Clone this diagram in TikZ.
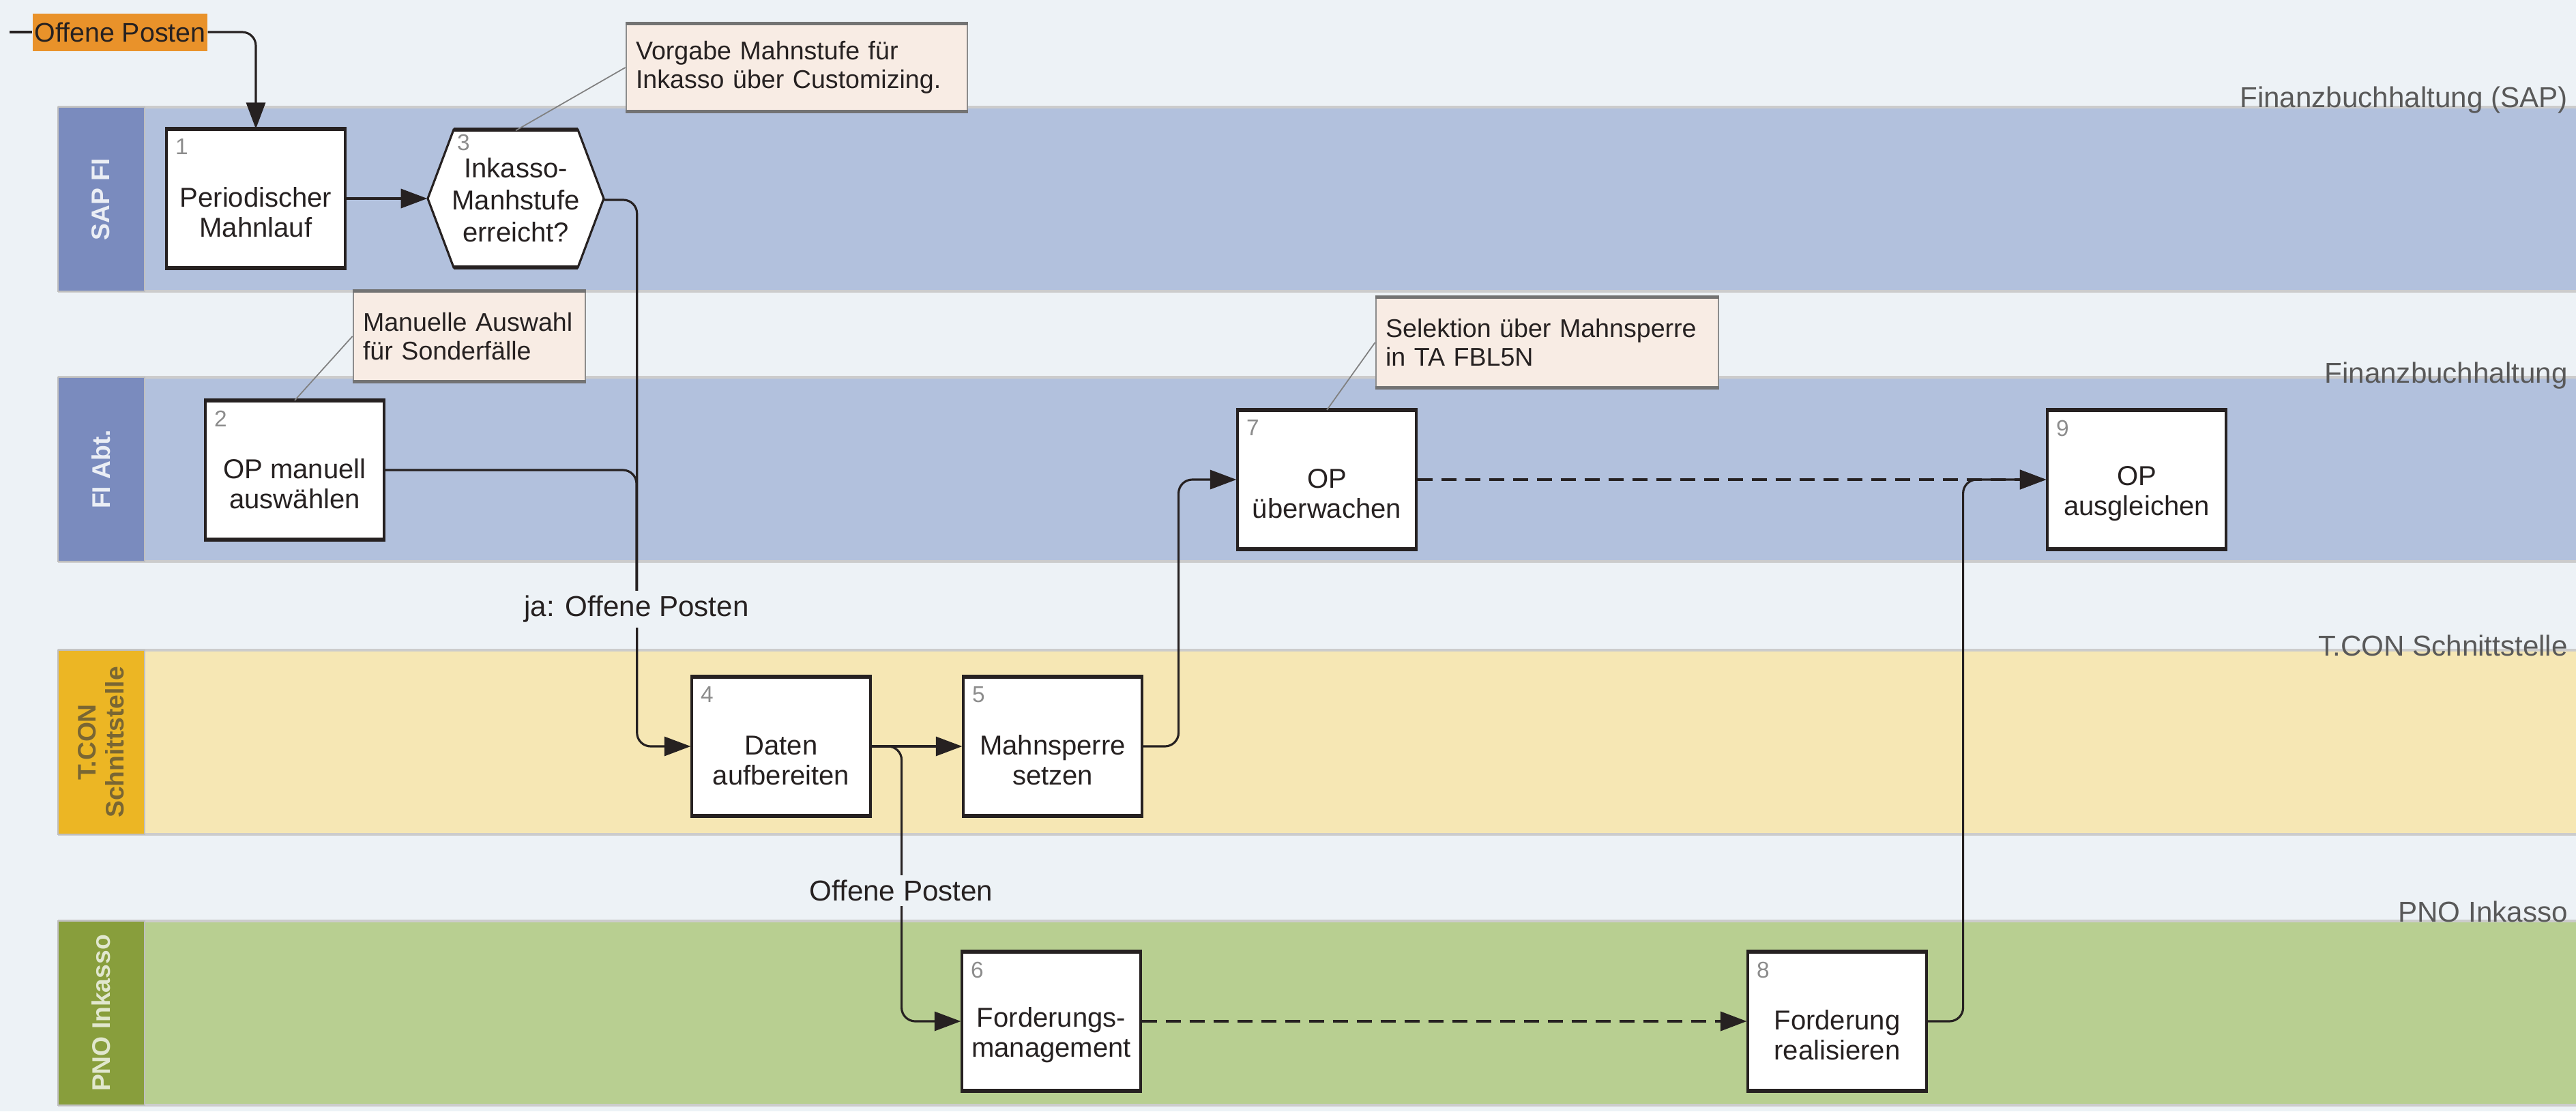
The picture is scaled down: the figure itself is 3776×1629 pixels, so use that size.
\documentclass[tikz,border=0pt]{standalone}
\usepackage{fontspec}
\setmainfont{Liberation Sans}
\usepackage{tikz}
\usetikzlibrary{
  arrows.meta,
  positioning,
  calc
}
\definecolor{paper}{RGB}{237,242,246}
\definecolor{laneblue}{RGB}{178,193,221}
\definecolor{headblue}{RGB}{122,139,190}
\definecolor{laneyellow}{RGB}{246,231,180}
\definecolor{headyellow}{RGB}{236,182,36}
\definecolor{lanegreen}{RGB}{184,207,145}
\definecolor{headgreen}{RGB}{136,158,60}
\definecolor{notefill}{RGB}{248,236,228}
\definecolor{opfill}{RGB}{233,146,42}
\definecolor{ink}{RGB}{38,33,33}

\begin{document}
\begin{tikzpicture}[x=0.1mm, y=-0.1mm,
  procbox/.style={draw=ink, line width=0.9pt, fill=white, minimum width=26.2mm,
    minimum height=20.1mm, align=center, inner sep=1pt, text=ink,
    font=\fontsize{11.4}{12.4}\selectfont,
    execute at begin node={\rule{0pt}{32pt}}},
  hexbox/.style={minimum width=25.8mm, minimum height=20.2mm, align=center,
    inner sep=1pt, text=ink, font=\fontsize{11.4}{13.4}\selectfont},
  stepno/.style={anchor=north west, inner sep=4pt, text=black!45,
    font=\fontsize{9.5}{10}\selectfont},
  notebox/.style={draw=black!45, line width=0.8pt, fill=notefill, align=left,
    inner xsep=1.4mm, inner ysep=1mm, text=ink,
    font=\fontsize{10.7}{11.9}\selectfont},
  opbox/.style={fill=opfill, minimum width=25.6mm, minimum height=5.5mm,
    inner sep=0pt, text=ink, font=\fontsize{11.2}{12}\selectfont},
  flow/.style={draw=ink, line width=0.9pt, rounded corners=2mm},
  tip/.style={-{Triangle[length=11pt,width=8pt]}},
  dashflow/.style={draw=ink, line width=1.1pt, dash pattern=on 2.2mm off 1.3mm},
  noteline/.style={draw=black!50, line width=0.5pt},
  flowlabel/.style={fill=paper, inner sep=2pt, text=ink,
    font=\fontsize{12}{13}\selectfont},
  lanelabel/.style={anchor=south east, inner sep=1pt, text=black!65,
    font=\fontsize{12}{13}\selectfont},
  headlabel/.style={rotate=90, align=center,
    font=\fontsize{10.6}{11.6}\selectfont\bfseries}
]
  \useasboundingbox (0,0) rectangle (3776,1629);
  \fill[paper] (0,0) rectangle (3776,1629);

  % swimlanes
  \foreach \y/\lanec/\headc in {157/laneblue/headblue, 553/laneblue/headblue,
      953/laneyellow/headyellow, 1350/lanegreen/headgreen} {
    \fill[\lanec] (85,\y) rectangle (3776,\y+270);
    \draw[black!20, line width=1pt] (85,\y) -- (3776,\y) (85,\y+270) -- (3776,\y+270);
    \filldraw[fill=\headc, draw=black!25, line width=0.8pt] (85,\y) rectangle (212,\y+270);
  }
  \node[headlabel, text=white!85!headblue] (hsap) at (148,292) {SAP FI};
  \node[headlabel, text=white!85!headblue] (hfi) at (148,688) {FI Abt.};
  \node[headlabel, text=black!50!headyellow!70!gray] (htcon) at (148,1088) {T.CON\\Schnittstelle};
  \node[headlabel, text=white!75!headgreen] (hpno) at (148,1485) {PNO Inkasso};

  \node[lanelabel] (lsap) at (3768,170) {Finanzbuchhaltung (SAP)};
  \node[lanelabel] (lfi) at (3768,574) {Finanzbuchhaltung};
  \node[lanelabel] (ltcon) at (3768,966) {T.CON Schnittstelle};
  \node[lanelabel] (lpno) at (3768,1356) {PNO Inkasso};

  % steps
  \node[opbox] (n0) at (176,47) {Offene Posten};
  \coordinate (start) at (14,47);
  \node[procbox] (n1) at (375,291) {Periodischer\\Mahnlauf};
  \filldraw[draw=ink, line width=0.9pt, fill=white]
    (627,291) -- (665,190) -- (847,190) -- (885,291) -- (847,392) -- (665,392) -- cycle;
  \draw[ink, line width=1.5pt] (665,190) -- (847,190) (665,392) -- (847,392);
  \node[hexbox] (n3) at (756,293) {Inkasso-\\Manhstufe\\erreicht?};
  \node[procbox] (n2) at (432,689) {OP manuell\\auswählen};
  \node[procbox] (n4) at (1145,1094) {Daten\\aufbereiten};
  \node[procbox] (n5) at (1543,1094) {Mahnsperre\\setzen};
  \node[procbox] (n6) at (1541,1497) {Forderungs-\\management};
  \node[procbox] (n7) at (1945,703) {OP\\überwachen};
  \node[procbox] (n8) at (2693,1497) {Forderung\\realisieren};
  \node[procbox] (n9) at (3132,703) {OP\\ausgleichen};

  \foreach \n/\k in {n1/1, n2/2, n4/4, n5/5, n6/6, n7/7, n8/8, n9/9} {
    \draw[ink, line width=1.5pt] (\n.north west) -- (\n.north east)
      (\n.south west) -- (\n.south east);
    \node[stepno] (no\k) at (\n.north west) {\k};
  }
  \node[stepno, inner sep=2pt] (no3) at ($(n3.north west)+(36,-2)$) {3};

  % notes
  \node[notebox, text width=47.2mm, minimum height=12.6mm] (note1) at (1168,99)
    {Vorgabe Mahnstufe für\\Inkasso über Customizing.};
  \node[notebox, text width=31.2mm, minimum height=13mm] (note2) at (688,493)
    {Manuelle Auswahl\\für Sonderfälle};
  \node[notebox, text width=47.4mm, minimum height=13mm] (note3) at (2268,502)
    {Selektion über Mahnsperre\\in TA FBL5N};
  \foreach \n in {note1, note2, note3}
    \draw[black!55, line width=1.3pt] (\n.north west) -- (\n.north east)
      (\n.south west) -- (\n.south east);
  \draw[noteline] (note1.west) -- (n3.north);
  \draw[noteline] (note2.west) -- (n2.north);
  \draw[noteline] (note3.west) -- (n7.north);

  % flows
  \coordinate (vbus) at (933,893);
  \draw[flow] (start) -- (n0.west);
  \draw[flow, tip] (n0.east) -| (n1.north);
  \draw[flow, tip] (n1.east) -- (n3.west |- n1.east);
  \draw[flow, tip] (n3.east) -- ++(48,0) |- (n4.west);
  \draw[flow] (n2.east) -| (vbus);
  \draw[flow, tip] (n4.east) -- (n5.west);
  \draw[flow, tip] (n4.east) -- ++(44,0) |- (n6.west);
  \draw[flow, tip] (n5.east) -- ++(52,0) |- (n7.west);
  \draw[dashflow, tip] (n7.east) -- (n9.west);
  \draw[dashflow, tip] (n6.east) -- (n8.west);
  \draw[flow, tip] (n8.east) -- ++(52,0) |- (n9.west);

  \node[flowlabel] (lja) at (vbus) {ja: Offene Posten};
  \node[flowlabel] (lop) at (1321,1305) {Offene Posten};
\end{tikzpicture}
\end{document}
